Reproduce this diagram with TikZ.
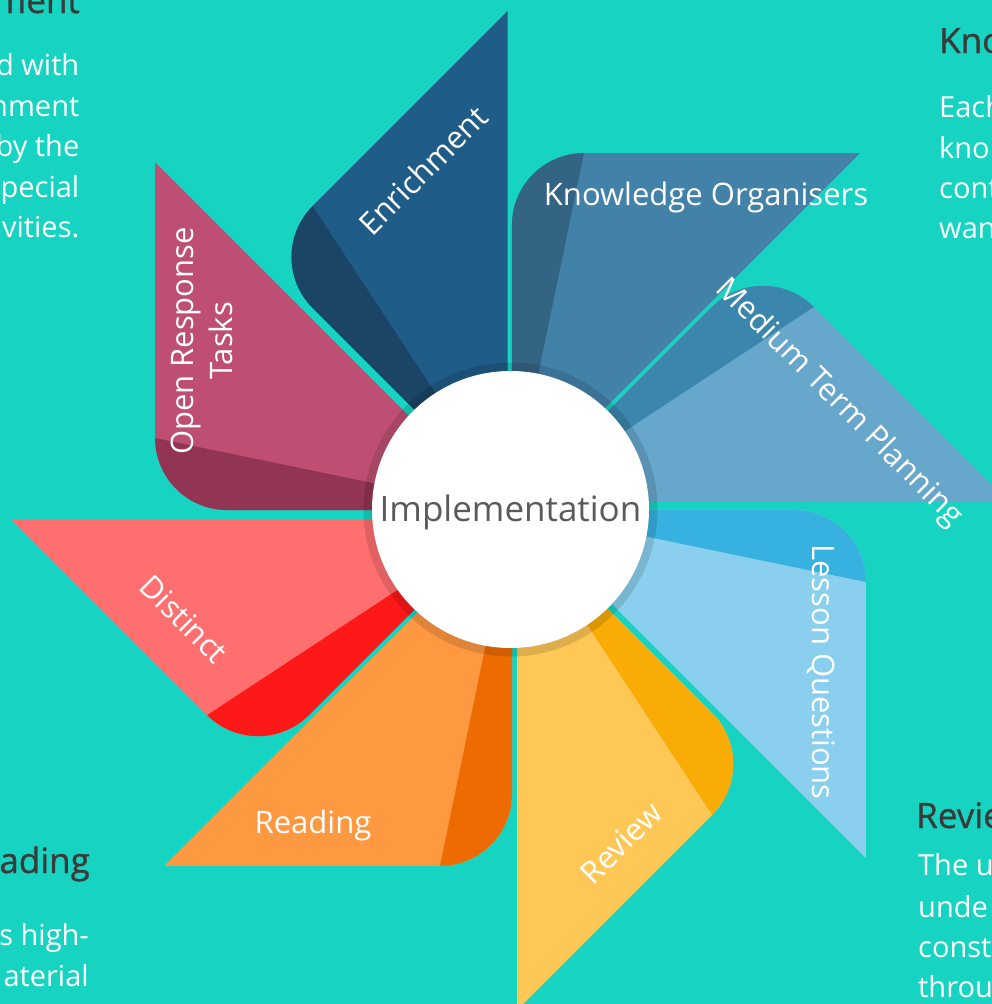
\documentclass[tikz,border=0pt]{standalone}
\usepackage{fontspec}
\setmainfont{Open Sans}
\newfontfamily\headfont[FakeBold=0.9]{Open Sans}
\definecolor{bg}{HTML}{16D4C1}
\definecolor{enL}{HTML}{1F5C87}\definecolor{enD}{HTML}{1A4567}
\definecolor{koL}{HTML}{4282A9}\definecolor{koD}{HTML}{346483}
\definecolor{mtL}{HTML}{66A7CB}\definecolor{mtD}{HTML}{3A86AD}
\definecolor{lqL}{HTML}{8AD0EE}\definecolor{lqD}{HTML}{37B1E0}
\definecolor{rvL}{HTML}{FEC756}\definecolor{rvD}{HTML}{F9AB06}
\definecolor{rdL}{HTML}{FE9841}\definecolor{rdD}{HTML}{EE6B02}
\definecolor{diL}{HTML}{FF6F6F}\definecolor{diD}{HTML}{FE1919}
\definecolor{orL}{HTML}{BE4F72}\definecolor{orD}{HTML}{923453}
\definecolor{headc}{HTML}{3A3A3A}
\definecolor{implc}{HTML}{5A5A5A}
\tikzset{
  lbl/.style={text=white, font=\fontsize{31}{39}\selectfont, inner sep=0pt},
  bodytxt/.style={text=white, font=\fontsize{29}{40}\selectfont, inner sep=0pt},
  headtxt/.style={text=headc, font=\headfont\fontsize{35}{40}\selectfont, inner sep=0pt},
}
% #1 origin x, #2 origin y (image px), #3 angle, #4 light, #5 dark
\newcommand\drawpetal[5]{%
  \begin{scope}[shift={(#1,-#2)}, rotate=#3]
    \fill[#4] (0,0) -- (492,0) -- (296.9,195.1) arc[start angle=45,end angle=135,radius=72] -- cycle;
    \fill[#5] (0,0) -- (296.9,195.1) arc[start angle=45,end angle=135,radius=72] -- cycle;
  \end{scope}}
\begin{document}
\begin{tikzpicture}[x=1pt,y=1pt]
\useasboundingbox (0,0) rectangle (992,-1004);
\clip (0,0) rectangle (992,-1004);
\fill[bg] (0,0) rectangle (992,-1004);
% petals
\drawpetal{507.7}{503}{90}{enL}{enD}
\drawpetal{512}{501}{45}{koL}{koD}
\drawpetal{517}{502}{0}{mtL}{mtD}
\drawpetal{518}{510}{-45}{lqL}{lqD}
\drawpetal{517}{518}{-90}{rvL}{rvD}
\drawpetal{512}{518}{-135}{rdL}{rdD}
\drawpetal{504}{520}{180}{diL}{diD}
\drawpetal{503}{510}{135}{orL}{orD}
% hub
\coordinate (hub) at (510.5,-509.5);
\fill[black, opacity=0.12] (hub) circle[radius=147];
\node[circle, fill=white, minimum size=277, inner sep=0pt] (impl) at (hub) {};
\node[text=implc, font=\fontsize{35}{40}\selectfont, inner sep=0pt] (impltxt) at (510.5,-512) {Implementation};
% petal labels
\node[lbl, rotate=45] (l1) at (423,-170) {Enrichment};
\node[lbl] (l2) at (706,-197) {Knowledge Organisers};
\node[lbl, rotate=-45] (l3) at (839,-403) {Medium Term Planning};
\node[lbl, rotate=-90] (l4) at (821,-672) {Lesson Questions};
\node[lbl, rotate=45] (l5) at (621,-843) {Review};
\node[lbl] (l6) at (313,-825) {Reading};
\node[lbl, rotate=-45] (l7) at (184,-619) {Distinct};
\node[lbl, rotate=90, align=center] (l8) at (202,-341) {Open Response\\Tasks};
% side texts, top-left
\node[headtxt, anchor=base east] (h1) at (80,-13) {ment};
\node[bodytxt, anchor=base east] (b11) at (79.5,-75) {d with};
\node[bodytxt, anchor=base east] (b12) at (79.5,-116) {nment};
\node[bodytxt, anchor=base east] (b13) at (79.5,-156.5) {by the};
\node[bodytxt, anchor=base east] (b14) at (79.5,-197) {pecial};
\node[bodytxt, anchor=base east] (b15) at (79.5,-237.5) {vities.};
% top-right
\node[headtxt, anchor=base west] (h2) at (939,-53) {Kno};
\node[bodytxt, anchor=base west] (b21) at (939,-117) {Each};
\node[bodytxt, anchor=base west] (b22) at (939,-158) {kno};
\node[bodytxt, anchor=base west] (b23) at (939,-198) {cont};
\node[bodytxt, anchor=base west] (b24) at (939,-238) {wan};
% bottom-right
\node[headtxt, anchor=base west] (h3) at (916,-828) {Revie};
\node[bodytxt, anchor=base west] (b31) at (918,-875) {The u};
\node[bodytxt, anchor=base west] (b32) at (918,-917) {unde};
\node[bodytxt, anchor=base west] (b33) at (918,-957) {const};
\node[bodytxt, anchor=base west] (b34) at (918,-997) {throu};
% bottom-left
\node[headtxt, anchor=base east] (h4) at (90,-873) {ading};
\node[bodytxt, anchor=base east] (b41) at (89,-945) {s high-};
\node[bodytxt, anchor=base east] (b42) at (89,-986) {aterial};
\end{tikzpicture}
\end{document}
